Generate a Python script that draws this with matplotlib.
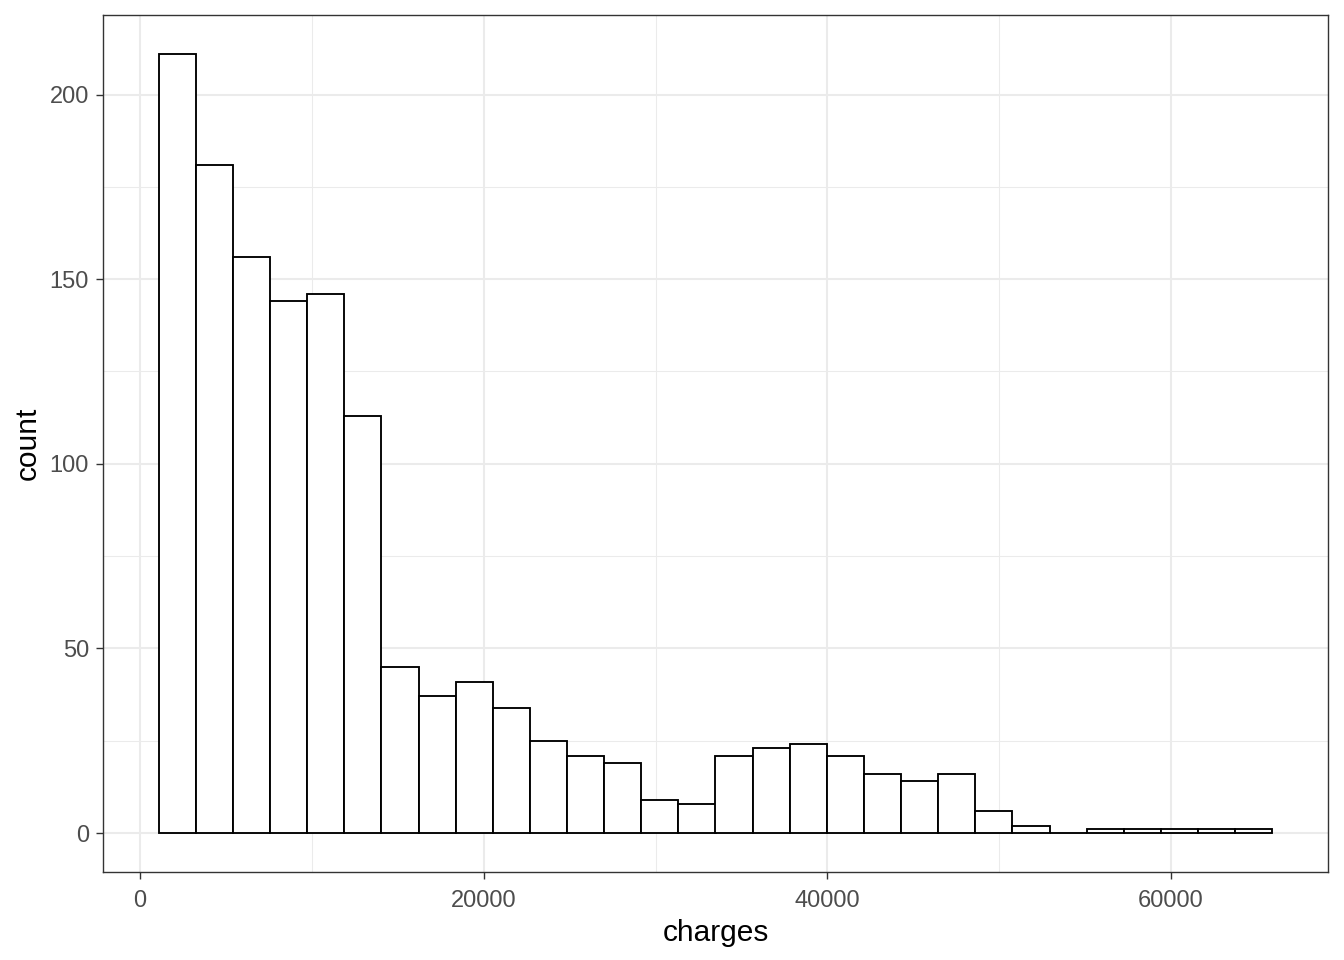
import matplotlib
matplotlib.use("Agg")
import matplotlib.pyplot as plt
import numpy as np

# Histogram data (ggplot2 default 30 bins)
bin_start = 1080.15
bin_width = 2160.3
counts = [211, 181, 156, 144, 146, 113, 45, 37, 41, 34, 25, 21, 19, 9, 8,
          21, 23, 24, 21, 16, 14, 16, 6, 2, 0, 1, 1, 1, 1, 1]
x_ticks = [0, 20000, 40000, 60000]
y_ticks = [0, 50, 100, 150, 200]
x_minor = [10000, 30000, 50000]
y_minor = [25, 75, 125, 175]

plt.rcParams['font.family'] = ['Liberation Sans', 'DejaVu Sans']

fig = plt.figure(figsize=(13.44, 9.6), dpi=100)
ax = fig.add_axes([103/1344, 1 - 872/960, (1328-103)/1344, (872-15)/960])

edges = bin_start + bin_width * np.arange(len(counts) + 1)
lefts = edges[:-1]
ax.bar(lefts, counts, width=bin_width, align='edge', facecolor='white',
       edgecolor='black', linewidth=1.35, zorder=3)

xmin, xmax = edges[0], edges[-1]
xr = xmax - xmin
ax.set_xlim(xmin - 0.05 * xr, xmax + 0.05 * xr)
ymax = max(counts)
ax.set_ylim(-0.05 * ymax, ymax * 1.05)

ax.set_xticks(x_ticks)
ax.set_yticks(y_ticks)
ax.set_xticks(x_minor, minor=True)
ax.set_yticks(y_minor, minor=True)
ax.set_xticklabels([str(t) for t in x_ticks])
ax.set_yticklabels([str(t) for t in y_ticks])

ax.grid(which='major', color='#EBEBEB', linewidth=1.5, zorder=0)
ax.grid(which='minor', color='#EBEBEB', linewidth=0.75, zorder=0)
ax.set_axisbelow(True)

for s in ax.spines.values():
    s.set_color('#333333')
    s.set_linewidth(1.0)

ax.tick_params(which='major', length=5, width=1.0, color='#333333',
               labelsize=17, labelcolor='#4D4D4D')
ax.tick_params(axis='x', which='major', pad=8)
ax.tick_params(axis='y', which='major', pad=5)
ax.tick_params(which='minor', length=0)

ax.set_xlabel('charges', fontsize=21.5, color='black', labelpad=5)
ax.set_ylabel('count', fontsize=21.5, color='black', labelpad=6)

fig.savefig('out.png', dpi=100, facecolor='white')
